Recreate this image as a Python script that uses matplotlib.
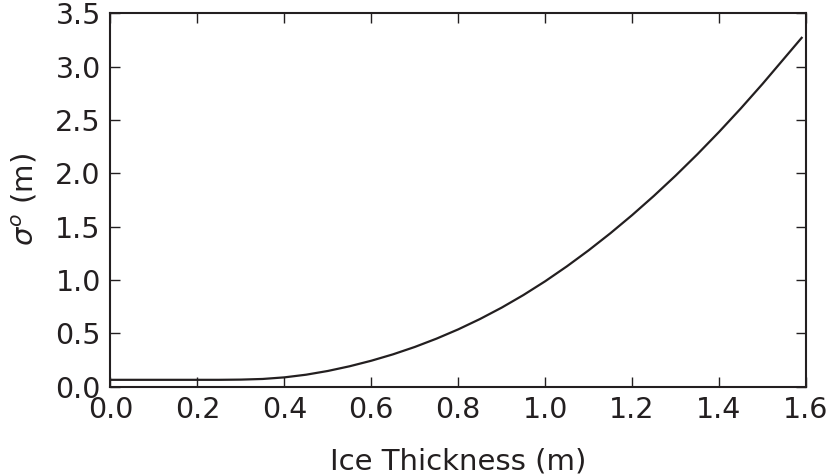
import numpy as np
import matplotlib
matplotlib.use('Agg')
import matplotlib.pyplot as plt

# values
thickness = [0.00, 0.05, 0.10, 0.15, 0.20, 0.25, 0.30, 0.35, 0.40, 0.45,
             0.50, 0.55, 0.60, 0.65, 0.70, 0.75, 0.80, 0.85, 0.90, 0.95,
             1.00, 1.05, 1.10, 1.15, 1.20, 1.25, 1.30, 1.35, 1.40, 1.45,
             1.50, 1.55, 1.59]
sigma = [0.064, 0.064, 0.064, 0.064, 0.064, 0.064, 0.066, 0.072, 0.087, 0.112,
         0.147, 0.191, 0.243, 0.303, 0.372, 0.450, 0.537, 0.634, 0.741, 0.859,
         0.988, 1.128, 1.278, 1.438, 1.608, 1.788, 1.978, 2.178, 2.388, 2.608,
         2.838, 3.078, 3.270]

xticks = [0.0, 0.2, 0.4, 0.6, 0.8, 1.0, 1.2, 1.4, 1.6]
yticks = [0.0, 0.5, 1.0, 1.5, 2.0, 2.5, 3.0, 3.5]

ink = '#231f20'
plt.rcParams['font.family'] = ['DejaVu Sans']
plt.rcParams['mathtext.fontset'] = 'dejavusans'

fig = plt.figure(figsize=(8.27, 4.75), dpi=100)
ax = fig.add_axes([0.1336, 0.186, 0.841, 0.786])

ax.plot(thickness, sigma, color=ink, linewidth=1.6)

ax.set_xlim(0, 1.6)
ax.set_ylim(0, 3.5)
ax.set_xticks(xticks)
ax.set_yticks(yticks)
ax.set_xticklabels(['%.1f' % v for v in xticks])
ax.set_yticklabels(['%.1f' % v for v in yticks])
ax.tick_params(direction='in', top=True, right=True, length=7, width=1.0,
               colors=ink, labelsize=20.5, pad=7)
for s in ax.spines.values():
    s.set_linewidth(1.5)
    s.set_color(ink)

ax.set_xlabel('Ice Thickness (m)', fontsize=21, color=ink, labelpad=17)
ax.set_ylabel(r'$\sigma^o$ (m)', fontsize=21, color=ink, labelpad=11)

fig.savefig('out.png', dpi=100)
